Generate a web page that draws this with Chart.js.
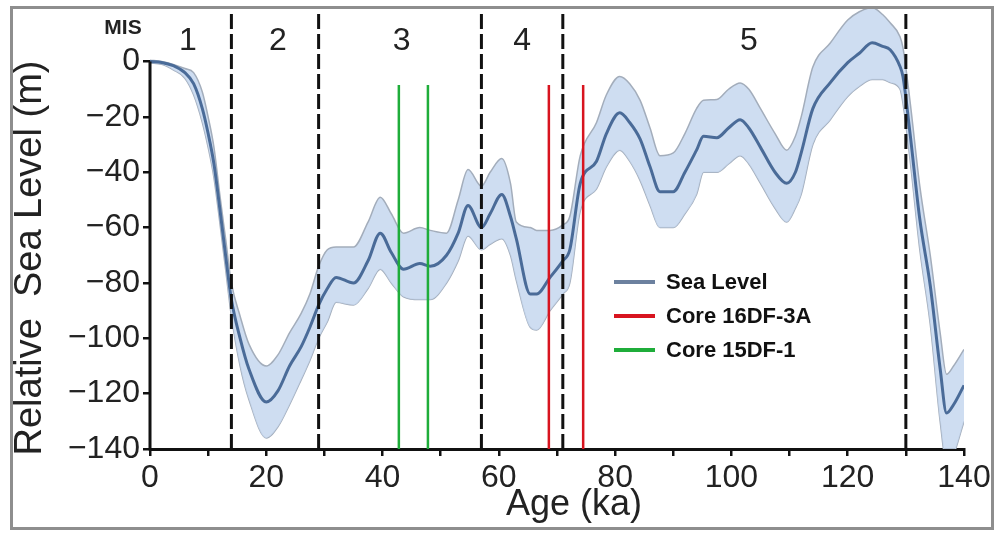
<!DOCTYPE html>
<html>
<head>
<meta charset="utf-8">
<script src="https://cdn.jsdelivr.net/npm/chart.js@4.4.1/dist/chart.umd.min.js"></script>
<style>
  body { margin: 0; background: #fff; }
  canvas { display: block; }
</style>
</head>
<body>
<canvas id="seaChart" width="1000" height="533"></canvas>
<script>
// sea level curve (ka, metres)
const ages       = [0, 2, 4, 6, 7.5, 9, 10, 11, 12, 13, 14, 15.5, 17, 20, 22, 24, 26, 27.5, 29, 30.5, 32, 35, 37.5, 39.6, 41.5, 43.6, 46.4, 48.2, 51, 53, 54.7, 57, 58.5, 60.5, 62, 63, 65.4, 66.5, 68.8, 71, 72.2, 74, 76.8, 78.5, 80.8, 82.5, 84.3, 86, 87.7, 90, 92, 94, 95.2, 97.5, 99.5, 101.5, 103, 105, 107.5, 109.5, 111, 112, 114, 117, 120, 122, 124.2, 126, 127.3, 129, 129.5, 130.7, 132.4, 134.2, 135.9, 137, 138.2, 140];
const meanLevel  = [0, -0.3, -1.5, -4, -8, -17, -26, -37, -53, -70, -86, -100, -111, -123, -119, -110, -103, -96, -88, -82, -78, -80, -72, -62, -69, -75, -73, -74, -70, -62, -52, -60, -55, -48, -56, -64, -84, -84, -78, -72, -68, -44, -36, -26, -18.5, -22, -28, -38, -47, -47, -40, -32, -27, -27.5, -24, -21, -24, -31, -40, -44, -40, -33, -17, -7.6, -0.4, 3, 6.8, 5.5, 4.3, -1.8, -5.4, -25.6, -57, -81, -111, -127, -124, -117];
const upperLevel = [0.5, 0, -1, -2.5, -4, -11, -20, -31, -48, -64, -80, -92, -102, -110, -106, -98, -91, -84, -74, -68, -67, -67, -58, -49, -55, -62, -60, -61, -62, -50, -39, -45, -40, -35, -44, -58, -60, -61, -61, -59, -56, -34, -22, -12, -5.4, -8, -14, -24, -34, -33, -26, -17, -14, -13.7, -10, -7.7, -10, -17, -26, -32, -27, -20, -2, 6.7, 15, 18, 19.5, 17, 14, 9, 5, -14, -45, -70, -98, -113, -110, -104];
const lowerLevel = [-0.5, -1, -3, -6, -12, -22, -31, -42, -58, -75, -92, -110, -122, -136, -132, -124, -115, -108, -100, -94, -87, -88, -82, -75, -80, -85, -86, -86, -80, -72, -63, -68, -66, -64, -70, -79, -96, -97, -90, -84, -80, -54, -46, -38, -32, -36, -43, -52, -60, -60, -55, -48, -40, -40, -37, -34, -37, -44, -53, -58, -53, -48, -30, -21, -12.6, -9, -6.5, -6.5, -7.6, -10, -15, -35, -68, -95, -130, -145, -142, -130];

// marine isotope stages
const stageBounds    = [14, 29, 57, 71, 130];
const stageLabels    = ['1', '2', '3', '4', '5'];
const stageLabelAges = [6.5, 22, 43.3, 64, 103];

// core ages
const core16Ages = [68.6, 74.5];
const core15Ages = [42.8, 47.8];
const coreTop = -8.5;

const yMin = -140, yMax = 19;
const font = "'Liberation Sans', Arial, sans-serif";

function pts(xs, ys) {
  return xs.map((x, i) => ({ x: x, y: ys[i] }));
}

function vline(x, y0, y1, color, dash) {
  return {
    data: [{ x: x, y: y0 }, { x: x, y: y1 }],
    borderColor: color,
    borderWidth: dash ? 3 : 2.5,
    borderDash: dash || [],
    pointRadius: 0,
    fill: false,
    tension: 0,
    order: -1
  };
}

const datasets = [
  {
    label: 'Sea Level',
    data: pts(ages, meanLevel),
    borderColor: '#4a6b98',
    borderWidth: 3,
    pointRadius: 0,
    cubicInterpolationMode: 'monotone',
    fill: false,
    order: 0
  },
  {
    label: 'upper',
    data: pts(ages, upperLevel),
    borderColor: '#a3adbb',
    borderWidth: 1.5,
    backgroundColor: 'rgba(198, 215, 238, 0.85)',
    pointRadius: 0,
    cubicInterpolationMode: 'monotone',
    fill: '+1',
    order: 1
  },
  {
    label: 'lower',
    data: pts(ages, lowerLevel),
    borderColor: '#a3adbb',
    borderWidth: 1.5,
    pointRadius: 0,
    cubicInterpolationMode: 'monotone',
    fill: false,
    order: 2
  }
];
stageBounds.forEach(b => datasets.push(vline(b, yMin, yMax, '#111', [15, 5])));
core15Ages.forEach(a => datasets.push(vline(a, yMin, coreTop, '#1fad3a')));
core16Ages.forEach(a => datasets.push(vline(a, yMin, coreTop, '#d8141f')));

const legendItems = [
  { text: 'Sea Level', color: '#6c819f' },
  { text: 'Core 16DF-3A', color: '#d8141f' },
  { text: 'Core 15DF-1', color: '#1fad3a' }
];

const decorations = {
  id: 'decorations',
  beforeDraw(chart) {
    const ctx = chart.ctx;
    ctx.save();
    ctx.fillStyle = '#fff';
    ctx.fillRect(0, 0, chart.width, chart.height);
    ctx.restore();
  },
  afterDraw(chart) {
    const ctx = chart.ctx;
    const xs = chart.scales.x, ys = chart.scales.y;
    ctx.save();

    // left axis line only from 0 down
    ctx.strokeStyle = '#111';
    ctx.lineWidth = 3;
    ctx.beginPath();
    ctx.moveTo(xs.left, ys.getPixelForValue(0));
    ctx.lineTo(xs.left, ys.getPixelForValue(yMin) + 1.5);
    ctx.stroke();

    // outer frame
    ctx.strokeStyle = '#8e8e8e';
    ctx.lineWidth = 3;
    ctx.strokeRect(11.5, 7.5, 981, 521);

    // MIS labels
    ctx.fillStyle = '#222';
    ctx.textAlign = 'center';
    ctx.textBaseline = 'middle';
    ctx.font = 'bold 21px ' + font;
    ctx.fillText('MIS', 123, 28);
    ctx.font = '32px ' + font;
    stageLabels.forEach((t, i) => {
      ctx.fillText(t, xs.getPixelForValue(stageLabelAges[i]), ys.getPixelForValue(7.2));
    });

    // axis titles
    ctx.font = '36px ' + font;
    ctx.fillText('Age (ka)', 574, 505);
    ctx.save();
    ctx.translate(31, 258);
    ctx.rotate(-Math.PI / 2);
    ctx.font = '38px ' + font;
    ctx.fillText('Relative  Sea Level (m)', 0, 0);
    ctx.restore();

    // legend
    ctx.font = 'bold 22px ' + font;
    ctx.textAlign = 'left';
    legendItems.forEach((item, i) => {
      const y = 282 + i * 34;
      ctx.strokeStyle = item.color;
      ctx.lineWidth = 4;
      ctx.beginPath();
      ctx.moveTo(614, y);
      ctx.lineTo(655, y);
      ctx.stroke();
      ctx.fillStyle = '#111';
      ctx.fillText(item.text, 666, y + 1);
    });
    ctx.restore();
  }
};

new Chart(document.getElementById('seaChart'), {
  type: 'line',
  data: { datasets: datasets },
  options: {
    responsive: false,
    animation: false,
    layout: { padding: { top: 9, right: 36, left: 0, bottom: 0 } },
    plugins: {
      legend: { display: false },
      tooltip: { enabled: false }
    },
    scales: {
      x: {
        type: 'linear',
        min: 0,
        max: 140,
        afterFit(scale) {
          scale.height = 84;
          scale.paddingLeft = 0;
          scale.paddingRight = 0;
        },
        border: { display: true, color: '#111', width: 3 },
        grid: { drawOnChartArea: false, drawTicks: true, tickLength: 7, color: '#111', lineWidth: 2.5 },
        ticks: {
          stepSize: 10,
          autoSkip: false,
          maxRotation: 0,
          padding: 3,
          color: '#222',
          font: { family: font, size: 32 },
          callback: v => (v % 20 === 0 ? String(v) : '')
        }
      },
      y: {
        type: 'linear',
        min: yMin,
        max: yMax,
        afterFit(scale) {
          scale.width = 150;
          scale.paddingTop = 0;
          scale.paddingBottom = 0;
        },
        border: { display: false },
        grid: { drawOnChartArea: false, drawTicks: true, tickLength: 7, color: '#111', lineWidth: 2.5 },
        ticks: {
          stepSize: 20,
          includeBounds: false,
          padding: 3,
          color: '#222',
          font: { family: font, size: 32 },
          callback: v => (v < 0 ? '\u2212' + Math.abs(v) : String(v))
        }
      }
    }
  },
  plugins: [decorations]
});
</script>
</body>
</html>
